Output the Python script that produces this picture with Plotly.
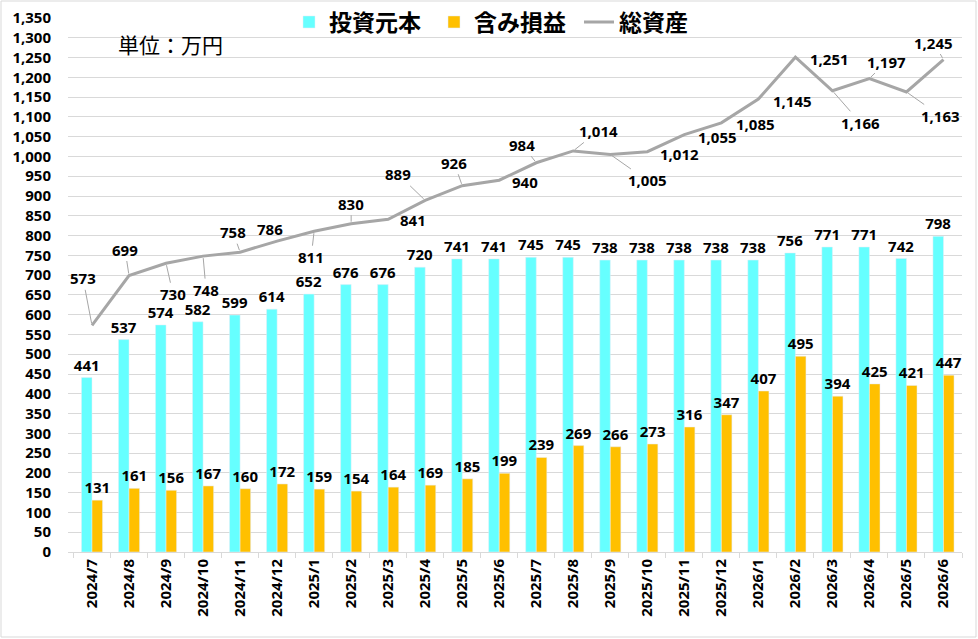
import plotly.graph_objects as go

months = ["2024/7", "2024/8", "2024/9", "2024/10", "2024/11", "2024/12",
          "2025/1", "2025/2", "2025/3", "2025/4", "2025/5", "2025/6",
          "2025/7", "2025/8", "2025/9", "2025/10", "2025/11", "2025/12",
          "2026/1", "2026/2", "2026/3", "2026/4", "2026/5", "2026/6"]
principal = [441, 537, 574, 582, 599, 614, 652, 676, 676, 720, 741, 741,
             745, 745, 738, 738, 738, 738, 738, 756, 771, 771, 742, 798]
unrealized = [131, 161, 156, 167, 160, 172, 159, 154, 164, 169, 185, 199,
              239, 269, 266, 273, 316, 347, 407, 495, 394, 425, 421, 447]
total = [573, 699, 730, 748, 758, 786, 811, 830, 841, 889, 926, 940,
         984, 1014, 1005, 1012, 1055, 1085, 1145, 1251, 1166, 1197, 1163, 1245]

# label offsets (pixels, label centre relative to point) and leader flag
lab_dx = [-9, -4, 7, 3, -7, -7, -3, 0, 25, -27, -8, 26, -14, 25, 37, 32, 33, 34, 34, 34, 28, 17, 34, -10]
lab_dy = [-47, -26, 31, 34, -20, -12, 26, -20, 1, -26, -23, 2, -18, -20, 26, 2, 2, 1, 2, 2, 32, -17, 24, -17]
leader = [1, 1, 1, 1, 1, 0, 1, 1, 0, 1, 1, 0, 1, 1, 1, 0, 0, 0, 0, 0, 1, 1, 1, 1]

FONT = "Noto Sans, Noto Sans CJK JP, sans-serif"
CYAN = "#66FFFF"
GOLD = "#FFC000"
GRAY = "#A6A6A6"
LBL = dict(family=FONT, size=15, color="black", weight="bold")

fig = go.Figure()
fig.add_trace(go.Bar(
    x=months, y=principal, name="投資元本", marker_color=CYAN,
    text=[f"{v:,}" for v in principal], textposition="outside",
    constraintext="none", cliponaxis=False, textfont=LBL,
))
fig.add_trace(go.Bar(
    x=months, y=unrealized, name="含み損益", marker_color=GOLD,
    text=[f"{v:,}" for v in unrealized], textposition="outside",
    constraintext="none", cliponaxis=False, textfont=LBL,
))
fig.add_trace(go.Scatter(
    x=months, y=total, name="総資産", mode="lines",
    line=dict(color=GRAY, width=3), cliponaxis=False,
))

annotations = []
for m, v, dx, dy, ld in zip(months, total, lab_dx, lab_dy, leader):
    a = dict(x=m, y=v, xref="x", yref="y", text=f"{v:,}", font=LBL)
    if ld:
        a.update(showarrow=True, ax=dx, ay=dy, arrowhead=0, arrowwidth=1,
                 arrowcolor=GRAY, standoff=2)
    else:
        a.update(showarrow=False, xshift=dx, yshift=-dy)
    annotations.append(a)

W, H = 978, 639
L, R, T, B = 68, 16, 18, 87
pw, ph = W - L - R, H - T - B

annotations.append(dict(
    xref="paper", yref="paper", x=(116 - L) / pw, y=1 - (45 - T) / ph,
    xanchor="left", yanchor="middle", showarrow=False, text="単位：万円",
    font=dict(family=FONT, size=21, color="black"),
))

fig.update_layout(
    width=W, height=H,
    margin=dict(l=L, r=R, t=T, b=B, autoexpand=False),
    paper_bgcolor="white", plot_bgcolor="white",
    barmode="group", bargap=0.43, bargroupgap=0,
    font=dict(family=FONT, size=14, color="black"),
    showlegend=True,
    legend=dict(orientation="h", x=(289 - L) / pw, xanchor="left",
                y=1 - (22 - T) / ph, yanchor="middle",
                bgcolor="rgba(0,0,0,0)",
                font=dict(family=FONT, size=23, color="black", weight="bold"),
                itemwidth=30, entrywidth=100, traceorder="normal"),
    annotations=annotations,
    shapes=[dict(type="rect", xref="paper", yref="paper",
                 x0=(1 - L) / pw, x1=(W - 2 - L) / pw,
                 y0=-(H - 2 - (T + ph)) / ph, y1=1 + (T - 1) / ph,
                 line=dict(color="#D9D9D9", width=1), layer="below")],
)
fig.update_xaxes(
    type="category", tickangle=-90, tickson="boundaries",
    ticks="outside", ticklen=5, tickcolor="#D9D9D9",
    showline=True, linecolor="#D9D9D9", linewidth=1,
    showgrid=False, automargin=False,
    tickfont=dict(family=FONT, size=15, color="black", weight="bold"),
)
fig.update_yaxes(
    range=[0, 1350], dtick=50, tickformat=",",
    showgrid=True, gridcolor="#D9D9D9", gridwidth=1,
    zeroline=False, showline=False, automargin=False,
    ticks="outside", ticklen=13, tickcolor="rgba(0,0,0,0)",
    tickfont=dict(family=FONT, size=15, color="black", weight="bold"),
)

fig.write_html("out.html")
